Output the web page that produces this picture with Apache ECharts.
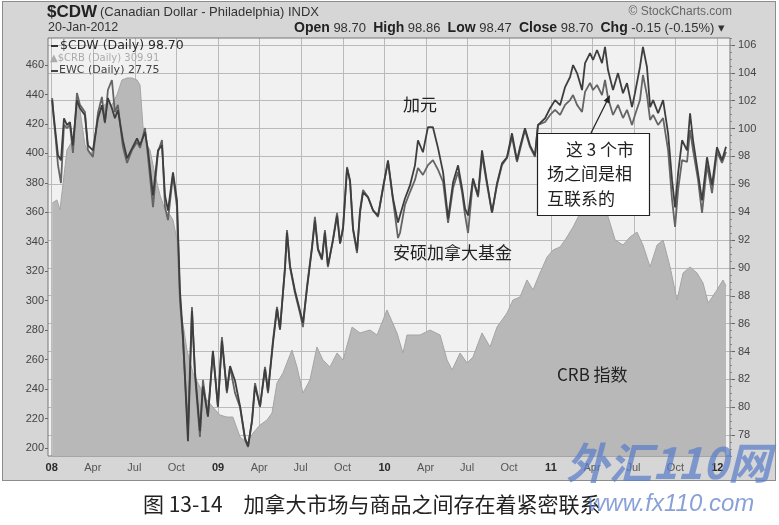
<!DOCTYPE html>
<html><head><meta charset="utf-8">
<script src="https://cdn.jsdelivr.net/npm/echarts/dist/echarts.min.js"></script>
<style>
body{margin:0;background:#fff;}
#wrap{position:relative;width:779px;height:525px;overflow:hidden;background:#fff;}
#panel{position:absolute;left:2px;top:1px;width:772px;height:478px;background:#d6d6d6;border:1px solid #8c8c8c;}
#plotbg{position:absolute;left:48px;top:38px;width:682px;height:418px;background:#f1f1f1;}
#chart{position:absolute;left:0;top:0;width:779px;height:525px;}
</style></head>
<body><div id="wrap"><div id="panel"></div><div id="plotbg"></div><div id="chart"></div></div>
<script>
// ---- x axis ticks (decimal years) and labels
const xTickYears = [2008, 2008.247, 2008.497, 2008.749, 2009, 2009.247, 2009.496, 2009.748,
  2010, 2010.247, 2010.496, 2010.748, 2011, 2011.247, 2011.496, 2011.748, 2012];
const xTickLabels = ['08','Apr','Jul','Oct','09','Apr','Jul','Oct','10','Apr','Jul','Oct','11','Apr','Jul','Oct','12'];
const leftTicks = [200,220,240,260,280,300,320,340,360,380,400,420,440,460];
const rightTicks = [78,80,82,84,86,88,90,92,94,96,98,100,102,104,106];

// ---- $CDW and EWC (shared dates, decimal years)
const lineYears = [
 2008.003,2008.012,2008.025,2008.038,2008.056,2008.074,2008.092,2008.110,2008.128,2008.152,
 2008.170,2008.200,2008.218,2008.248,2008.278,2008.302,2008.320,2008.338,2008.362,2008.380,
 2008.398,2008.428,2008.453,2008.483,2008.513,2008.531,2008.561,2008.579,2008.609,2008.639,
 2008.663,2008.681,2008.699,2008.729,2008.753,2008.771,2008.789,2008.819,2008.843,2008.861,
 2008.891,2008.909,2008.939,2008.969,2008.999,2009.023,2009.053,2009.072,2009.102,2009.132,
 2009.162,2009.180,2009.204,2009.222,2009.252,2009.282,2009.300,2009.330,2009.354,2009.372,
 2009.402,2009.414,2009.432,2009.462,2009.492,2009.510,2009.534,2009.564,2009.582,2009.600,
 2009.624,2009.642,2009.660,2009.690,2009.715,2009.733,2009.751,2009.775,2009.793,2009.811,
 2009.835,2009.853,2009.871,2009.901,2009.931,2009.961,2009.991,2010.021,2010.051,2010.081,
 2010.093,2010.123,2010.153,2010.183,2010.201,2010.231,2010.261,2010.291,2010.322,2010.352,
 2010.382,2010.412,2010.442,2010.466,2010.484,2010.502,2010.532,2010.562,2010.586,2010.616,
 2010.646,2010.676,2010.706,2010.736,2010.766,2010.796,2010.814,2010.844,2010.874,2010.904,
 2010.922,2010.965,2010.995,2011.025,2011.055,2011.085,2011.115,2011.133,2011.157,2011.187,
 2011.205,2011.235,2011.253,2011.277,2011.307,2011.325,2011.343,2011.373,2011.403,2011.433,
 2011.457,2011.487,2011.505,2011.535,2011.553,2011.577,2011.596,2011.614,2011.644,2011.674,
 2011.704,2011.728,2011.746,2011.764,2011.788,2011.818,2011.836,2011.854,2011.884,2011.908,
 2011.938,2011.968,2011.998,2012.028,2012.052];
const cdwValues = [
 102.04,100.96,99.52,98.08,97.72,100.74,100.24,100.46,98.80,102.04,
 101.46,100.96,98.80,98.44,100.74,101.68,100.46,102.18,101.46,100.74,
 101.32,99.16,97.86,98.58,99.30,98.80,99.74,98.44,95.20,98.44,
 98.80,95.20,94.12,96.86,94.84,88.36,85.12,77.56,86.92,82.60,
 78.28,81.52,79.36,84.04,80.08,84.76,81.16,82.96,81.88,80.08,
 77.78,77.20,79.00,81.52,80.08,82.74,81.16,84.62,87.06,85.62,
 89.94,92.54,90.16,88.36,86.92,86.06,88.50,91.38,93.40,91.38,
 90.66,92.54,90.16,91.96,93.76,91.74,92.82,97.14,96.28,92.82,
 91.24,93.98,95.42,95.06,94.12,93.76,95.70,97.72,94.98,93.26,
 93.76,94.98,95.92,97.36,99.16,98.30,100.10,100.10,98.58,96.86,
 93.54,96.14,97.36,95.70,94.26,93.76,96.42,95.20,98.44,96.14,
 93.98,96.06,97.50,97.94,99.66,97.72,98.66,100.02,98.80,98.08,
 100.24,100.74,101.46,102.04,101.68,102.98,103.70,104.56,103.98,102.76,
 104.70,105.42,104.92,105.64,104.70,105.86,104.20,102.76,103.98,102.54,
 103.26,101.54,102.54,104.42,105.86,104.42,101.54,102.04,101.10,102.04,
 99.66,96.28,94.34,96.78,99.16,98.44,101.10,99.16,96.78,94.84,
 97.94,95.92,98.66,97.72,98.70];
const ewcValues = [
 30.33,29.37,28.32,27.12,26.26,29.04,28.89,29.04,27.70,30.57,
 30.00,29.66,27.84,27.51,29.61,30.38,29.13,30.71,31.19,29.66,
 30.00,27.99,27.22,27.84,28.22,27.94,28.89,27.51,25.11,27.75,
 28.32,25.11,24.49,26.65,25.11,20.66,18.75,14.44,20.33,17.08,
 14.11,16.84,15.07,18.18,15.54,18.89,16.21,17.46,16.21,15.54,
 13.97,13.63,14.92,16.69,15.54,17.46,16.21,18.75,20.33,19.23,
 22.24,24.01,22.24,21.00,20.04,19.37,21.29,23.20,24.64,23.06,
 22.58,24.01,22.24,23.54,24.83,23.39,24.16,27.03,26.31,24.01,
 22.91,24.97,25.93,25.59,24.97,24.64,26.07,27.27,25.45,23.63,
 23.87,25.21,25.83,26.41,26.98,26.65,27.12,27.36,26.89,26.31,
 24.35,26.02,26.79,25.83,24.73,23.87,26.41,25.59,27.60,26.17,
 24.83,26.17,27.12,27.46,28.46,27.27,27.84,28.80,27.99,27.51,
 29.04,29.18,29.52,29.76,29.52,30.00,30.23,30.47,30.00,29.66,
 30.62,31.05,30.71,30.95,30.47,31.19,30.33,29.52,30.00,29.37,
 29.76,29.04,29.52,30.23,31.43,30.47,29.28,29.52,29.04,29.37,
 27.84,25.45,24.16,25.93,27.36,27.27,28.80,27.84,26.41,24.83,
 27.12,25.78,27.75,27.22,27.75];

// ---- $CRB
const crbYears = [
 2008.003,2008.032,2008.050,2008.092,2008.128,2008.152,2008.170,2008.200,2008.230,2008.248,
 2008.278,2008.302,2008.332,2008.362,2008.392,2008.422,2008.453,2008.483,2008.513,2008.531,
 2008.549,2008.573,2008.591,2008.621,2008.651,2008.681,2008.711,2008.729,2008.753,2008.771,
 2008.795,2008.813,2008.849,2008.891,2008.933,2008.969,2009.011,2009.053,2009.089,2009.132,
 2009.174,2009.210,2009.252,2009.294,2009.324,2009.354,2009.390,2009.420,2009.444,2009.474,
 2009.510,2009.552,2009.594,2009.630,2009.672,2009.715,2009.751,2009.805,2009.853,2009.913,
 2009.955,2010.015,2010.075,2010.111,2010.135,2010.213,2010.273,2010.334,2010.376,2010.406,
 2010.454,2010.496,2010.532,2010.586,2010.634,2010.676,2010.736,2010.772,2010.814,2010.856,
 2010.892,2010.934,2010.977,2011.013,2011.055,2011.085,2011.133,2011.175,2011.217,2011.253,
 2011.284,2011.325,2011.344,2011.386,2011.433,2011.475,2011.517,2011.553,2011.596,2011.638,
 2011.674,2011.716,2011.758,2011.794,2011.836,2011.878,2011.914,2011.945,2011.998,2012.034,
 2012.052];
const crbValues = [
 366.3,368.4,361.6,402.3,409.1,436.0,429.5,405.7,398.9,402.3,
 422.7,431.5,434.2,432.9,439.6,449.8,451.2,451.2,449.8,446.4,
 417.9,405.7,402.3,385.3,371.8,361.6,358.2,354.8,341.2,295.7,
 280.1,266.5,250.9,241.4,232.6,227.8,222.4,221.0,221.0,207.5,
 203.4,210.2,215.6,219.0,223.8,244.1,250.9,259.7,266.5,255.0,
 237.3,246.2,268.6,259.7,255.0,264.5,259.7,282.1,278.1,280.1,
 276.7,293.7,278.1,264.5,276.7,276.7,280.1,276.7,259.7,253.0,
 264.5,257.7,261.8,278.1,268.6,282.1,291.6,300.5,302.5,314.1,
 307.3,318.8,329.7,334.4,336.5,341.2,350.0,359.5,365.0,369.7,
 368.4,365.0,356.8,341.2,337.8,343.2,346.6,337.8,322.9,337.8,
 341.2,322.9,300.5,318.8,322.9,318.8,312.0,298.4,307.3,314.1,
 309.91];

const zip = (xs, ys) => xs.map((x, i) => [x, ys[i]]);
const F = 'Liberation Sans, Arial, sans-serif';
const CJK = 'Noto Sans CJK SC, sans-serif';
const GRID = '#bababa';
const hiddenParts = {axisLine: {show: false}, axisTick: {show: false}, axisLabel: {show: false}};

const chart = echarts.init(document.getElementById('chart'), null, {renderer: 'canvas'});
chart.setOption({
  animation: false,
  grid: [
    {left: 48, right: 49, top: 38, bottom: 69, show: true,
     backgroundColor: 'transparent', borderColor: '#777', borderWidth: 1, z: 3},
    // same plot, spanning the right-axis tick range 78..106 (horizontal grid lines)
    {left: 48, right: 49, top: 45, bottom: 90, show: false},
    // same plot, spanning Jan 2008..Jan 2012 (quarterly vertical grid lines)
    {left: 51.66, right: 61.65, top: 38, bottom: 69, show: false}
  ],
  xAxis: [
    {type: 'value', gridIndex: 0, min: 2007.978, max: 2012.076,
     axisLine: {show: false}, axisTick: {show: false},
     axisLabel: {
       customValues: xTickYears, margin: 6,
       formatter: function (v) {
         let best = 0, d = 1e9;
         xTickYears.forEach((t, i) => { if (Math.abs(t - v) < d) { d = Math.abs(t - v); best = i; } });
         return best % 4 === 0 ? '{y|' + xTickLabels[best] + '}' : '{m|' + xTickLabels[best] + '}';
       },
       rich: {
         y: {fontFamily: F, fontSize: 11, fontWeight: 'bold', color: '#2a2a2a'},
         m: {fontFamily: F, fontSize: 11, color: '#555'}
       }
     },
     splitLine: {show: false}},
    Object.assign({type: 'value', gridIndex: 1, min: 0, max: 1, splitLine: {show: false}}, hiddenParts),
    Object.assign({type: 'value', gridIndex: 2, min: 2008, max: 2012, interval: 0.25,
      splitLine: {show: true, lineStyle: {color: GRID, width: 1}}}, hiddenParts)
  ],
  yAxis: [
    {type: 'value', gridIndex: 0, position: 'left', min: 194.57, max: 478.34,
     axisLine: {show: false},
     axisTick: {show: true, length: 3, customValues: leftTicks, lineStyle: {color: '#666'}},
     axisLabel: {customValues: leftTicks, fontFamily: F, fontSize: 11, color: '#444', margin: 4},
     splitLine: {show: false}},
    {type: 'value', gridIndex: 0, position: 'right', min: 76.5, max: 106.5,
     axisLine: {show: false},
     axisTick: {show: true, length: 5, customValues: rightTicks, lineStyle: {color: '#666'}},
     axisLabel: {customValues: rightTicks, fontFamily: F, fontSize: 11, color: '#444', margin: 8},
     splitLine: {show: false}},
    {type: 'value', gridIndex: 0, position: 'right', min: 76.5, max: 106.5, interval: 0.5,
     axisLine: {show: false}, axisLabel: {show: false}, splitLine: {show: false},
     axisTick: {show: true, length: 2, lineStyle: {color: '#888'}}},
    {type: 'value', gridIndex: 0, min: 13.2, max: 33.2, show: false},
    Object.assign({type: 'value', gridIndex: 1, min: 78, max: 106, interval: 2,
      splitLine: {show: true, lineStyle: {color: GRID, width: 1}}}, hiddenParts),
    Object.assign({type: 'value', gridIndex: 2, min: 0, max: 1, splitLine: {show: false}}, hiddenParts)
  ],
  series: [
    {name: '$CRB', type: 'line', xAxisIndex: 0, yAxisIndex: 0, data: zip(crbYears, crbValues),
     symbol: 'none', z: 3,
     lineStyle: {color: '#a4a4a4', width: 1},
     areaStyle: {color: '#b8b8b8', opacity: 1, origin: 'start'}},
    {name: 'EWC', type: 'line', xAxisIndex: 0, yAxisIndex: 3, data: zip(lineYears, ewcValues),
     symbol: 'none', z: 6, lineStyle: {color: '#656565', width: 1.8}},
    {name: '$CDW', type: 'line', xAxisIndex: 0, yAxisIndex: 1, data: zip(lineYears, cdwValues),
     symbol: 'none', z: 7, lineStyle: {color: '#3e3e3e', width: 1.8}}
  ],
  graphic: {elements: [
    {type: 'text', left: 47, top: 4, style: {text: '$CDW', font: 'bold 17px ' + F, fill: '#222'}},
    {type: 'text', left: 100, top: 6, style: {text: '(Canadian Dollar - Philadelphia) INDX', font: '13px ' + F, fill: '#333'}},
    {type: 'text', left: 48, top: 21, style: {text: '20-Jan-2012', font: '12.5px ' + F, fill: '#333'}},
    {type: 'text', right: 54, top: 21, style: {
      text: '{b|Open} 98.70  {b|High} 98.86  {b|Low} 98.47  {b|Close} 98.70  {b|Chg} -0.15 (-0.15%) \u25BE',
      font: '13px ' + F, fill: '#333',
      rich: {b: {font: 'bold 14px ' + F, fill: '#222'}}}},
    {type: 'text', right: 47, top: 6, style: {text: '\u00A9 StockCharts.com', font: '12px ' + F, fill: '#666'}},
    // legend
    {type: 'line', z: 50, shape: {x1: 51, y1: 46, x2: 58, y2: 46}, style: {stroke: '#333', lineWidth: 2}},
    {type: 'text', z: 50, left: 60, top: 39, style: {text: '$CDW (Daily) 98.70', font: '12.5px DejaVu Sans, sans-serif', fill: '#2a2a2a'}},
    {type: 'text', z: 50, left: 50, top: 53, style: {text: '\u25B2$CRB (Daily) 309.91', font: '10px DejaVu Sans, sans-serif', fill: '#ababab'}},
    {type: 'line', z: 50, shape: {x1: 51, y1: 71, x2: 58, y2: 71}, style: {stroke: '#444', lineWidth: 2}},
    {type: 'text', z: 50, left: 59, top: 65, style: {text: 'EWC (Daily) 27.75', font: '11px DejaVu Sans, sans-serif', fill: '#444'}},
    // annotations
    {type: 'text', z: 100, left: 403, top: 96, style: {text: '加元', font: '17px ' + CJK, fill: '#222'}},
    {type: 'text', z: 100, left: 393, top: 244, style: {text: '安硕加拿大基金', font: '17px ' + CJK, fill: '#222'}},
    {type: 'text', z: 100, left: 557, top: 366, style: {text: 'CRB 指数', font: '17px ' + CJK, fill: '#222'}},
    {type: 'rect', z: 100, shape: {x: 537.5, y: 133.5, width: 112, height: 82}, style: {fill: '#fff', stroke: '#222', lineWidth: 1.2}},
    {type: 'text', z: 101, left: 566, top: 141, style: {text: '这 3 个市', font: '17px ' + CJK, fill: '#222'}},
    {type: 'text', z: 101, left: 547, top: 165, style: {text: '场之间是相', font: '17px ' + CJK, fill: '#222'}},
    {type: 'text', z: 101, left: 547, top: 190, style: {text: '互联系的', font: '17px ' + CJK, fill: '#222'}},
    {type: 'line', z: 101, shape: {x1: 591, y1: 133, x2: 607, y2: 101}, style: {stroke: '#222', lineWidth: 1.3}},
    {type: 'polygon', z: 101, shape: {points: [[610, 95], [609.4, 103.6], [603.6, 100.8]]}, style: {fill: '#222'}},
    // caption
    {type: 'text', z: 100, left: 143, top: 494, style: {text: '图 13-14\u3000加拿大市场与商品之间存在着紧密联系', font: '21px ' + CJK, fill: '#222'}},
    // watermark
    {type: 'text', z: 102, left: 566, top: 441, style: {text: '外汇110网', font: 'italic bold 43px ' + CJK, fill: 'rgba(90,125,200,0.72)'}},
    {type: 'text', z: 102, left: 588, top: 492, style: {text: 'www.fx110.com', font: 'italic 24px ' + F, fill: 'rgba(90,125,200,0.72)'}}
  ]}
});
</script></body></html>
